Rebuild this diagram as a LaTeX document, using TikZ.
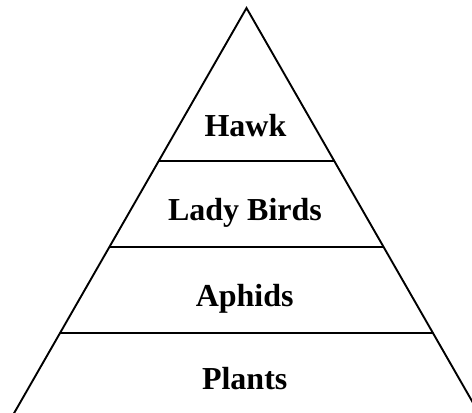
\documentclass[tikz,border=0pt]{standalone}
\usepackage{fontspec}
\setmainfont{Liberation Serif}
\tikzset{
  edge/.style={line width=1.9pt, line join=miter},
  label/.style={anchor=base, inner sep=0pt, font=\fontsize{32}{38}\selectfont\bfseries}
}
\begin{document}
\begin{tikzpicture}[x=1pt,y=-1pt]
\useasboundingbox (0,0) rectangle (472,413);
\clip (0,0) rectangle (472,413);
\coordinate (apex) at (246.5,8);
\coordinate (bl) at (4.4,430);
\coordinate (br) at (488.6,430);
\draw[edge] (bl) -- (apex) -- (br);
\coordinate (l1) at (158.9,160.7); \coordinate (r1) at (334.1,160.7);
\coordinate (l2) at (109.2,247.3); \coordinate (r2) at (383.8,247.3);
\coordinate (l3) at (60,333);      \coordinate (r3) at (433,333);
\draw[edge] (l1) -- (r1);
\draw[edge] (l2) -- (r2);
\draw[edge] (l3) -- (r3);
\node[label] (hawk) at (245.5,136.7) {Hawk};
\node[label] (lady) at (245,220) {Lady Birds};
\node[label] (aphids) at (244.7,306.7) {Aphids};
\node[label] (plants) at (244.7,389) {Plants};
\end{tikzpicture}
\end{document}
